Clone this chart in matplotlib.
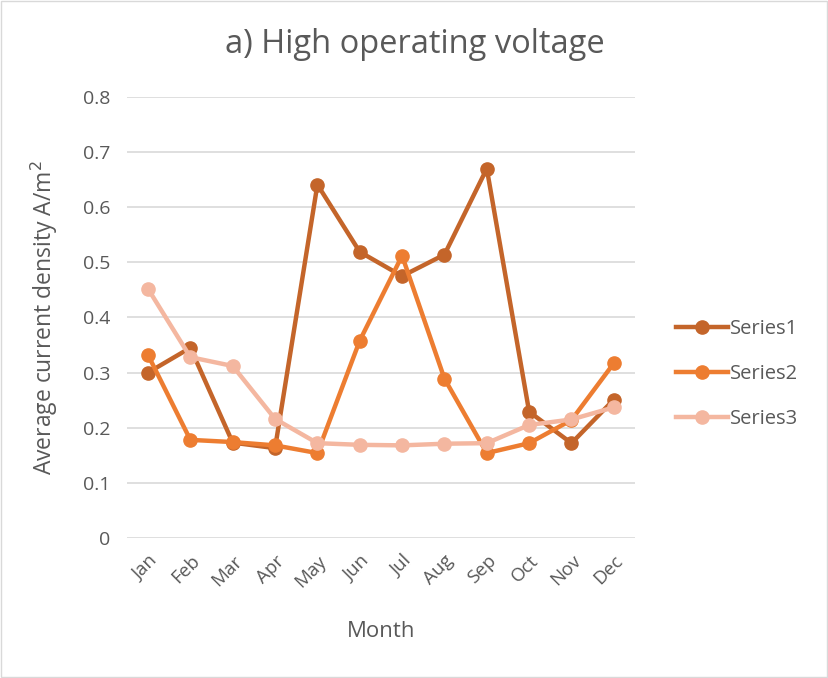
import matplotlib.pyplot as plt
from matplotlib.patches import Rectangle

plt.rcParams['font.family'] = ['Open Sans', 'DejaVu Sans']

months = ["Jan", "Feb", "Mar", "Apr", "May", "Jun", "Jul", "Aug", "Sep", "Oct", "Nov", "Dec"]
series1 = [0.300, 0.345, 0.173, 0.163, 0.641, 0.519, 0.475, 0.514, 0.670, 0.229, 0.172, 0.251]
series2 = [0.332, 0.178, 0.174, 0.168, 0.154, 0.358, 0.512, 0.289, 0.154, 0.172, 0.214, 0.317]
series3 = [0.452, 0.328, 0.312, 0.216, 0.172, 0.169, 0.168, 0.171, 0.172, 0.205, 0.215, 0.237]

names = ["Series1", "Series2", "Series3"]
colors = ["#C4652A", "#ED7D31", "#F4B7A0"]

fig = plt.figure(figsize=(8.29, 6.78), dpi=100)
fig.patches.append(Rectangle((0.001, 0.001), 0.997, 0.997, transform=fig.transFigure,
                             fill=False, edgecolor="#D9D9D9", linewidth=1))
ax = fig.add_axes([0.153, 0.2065, 0.613, 0.6505])

x = range(len(months))
for vals, name, c in zip([series1, series2, series3], names, colors):
    ax.plot(x, vals, color=c, linewidth=3.2, marker="o", markersize=9.5, label=name)

ax.set_xlim(-0.5, len(months) - 0.5)
ax.set_ylim(0, 0.8)
ax.set_yticks([i / 10 for i in range(9)])
ax.set_yticklabels(["0"] + [f"{i / 10:.1f}" for i in range(1, 9)])
ax.set_xticks(list(x))
ax.set_xticklabels(months, rotation=45, ha="right", rotation_mode="anchor")
ax.grid(axis="y", color="#D9D9D9", linewidth=1.2)
ax.set_axisbelow(True)
for s in ax.spines.values():
    s.set_visible(False)
ax.tick_params(length=0, colors="#595959", labelsize=14)
ax.tick_params(axis="y", pad=12)
ax.tick_params(axis="x", pad=10, labelsize=13.5)

fig.text(0.5, 0.934, "a) High operating voltage", fontsize=23.5, color="#595959",
         ha="center", va="center")
ax.set_xlabel("Month", fontsize=16, color="#595959", labelpad=22)
ax.set_ylabel("Average current density A/m$^2$", fontsize=16.5, color="#595959", labelpad=16)

ax.legend(loc="center left", bbox_to_anchor=(1.045, 0.372), frameon=False, fontsize=14.5,
          labelcolor="#595959", handlelength=2.6, handletextpad=0.1, labelspacing=1.25)

fig.savefig("out.png", dpi=100)
